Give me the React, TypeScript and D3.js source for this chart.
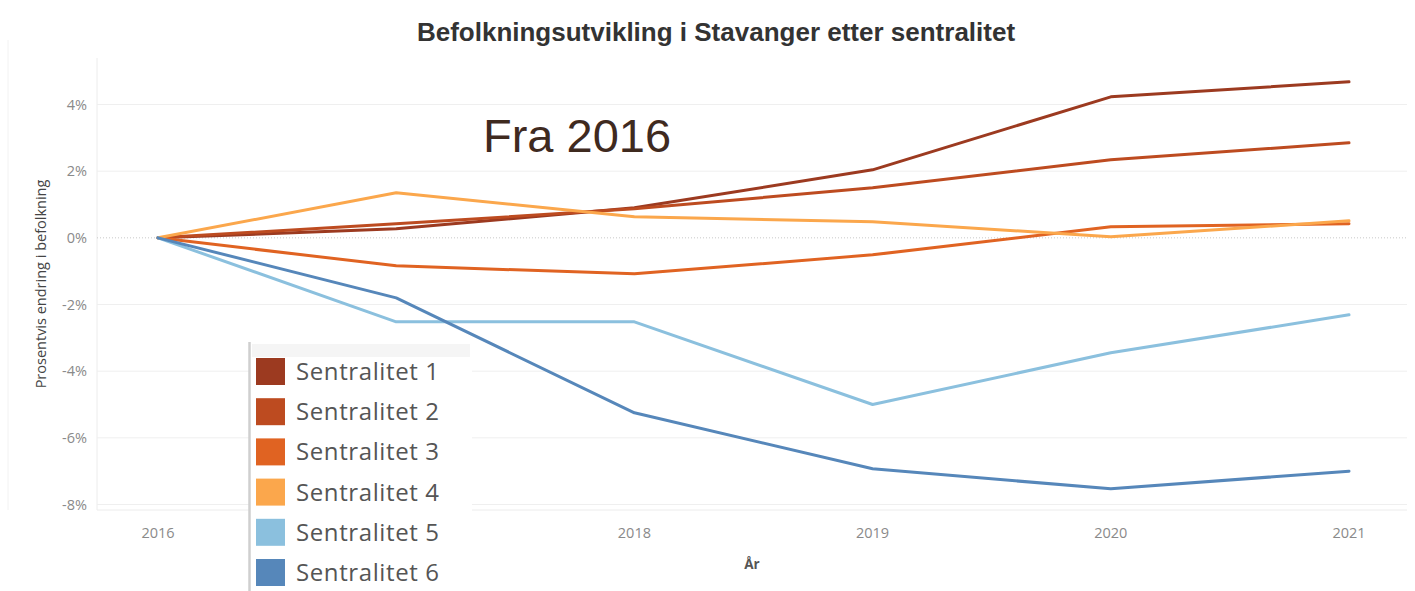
import React, { useEffect, useRef } from 'react';
import * as d3 from 'd3';

// years on the x axis
const years = [2016, 2017, 2018, 2019, 2020, 2021];
// the 2017 label sits behind the legend in the original, so it is not shown
const xTickLabels = [2016, 2018, 2019, 2020, 2021];

// percent change in population since 2016
const sentralitet1 = [0, 0.27, 0.9, 2.04, 4.23, 4.68];
const sentralitet2 = [0, 0.42, 0.87, 1.5, 2.34, 2.85];
const sentralitet3 = [0, -0.84, -1.08, -0.51, 0.33, 0.42];
const sentralitet4 = [0, 1.35, 0.63, 0.48, 0.03, 0.51];
const sentralitet5 = [0, -2.52, -2.52, -5.0, -3.45, -2.31];
const sentralitet6 = [0, -1.8, -5.25, -6.93, -7.53, -7.0];

const seriesNames = ['Sentralitet 1', 'Sentralitet 2', 'Sentralitet 3', 'Sentralitet 4', 'Sentralitet 5', 'Sentralitet 6'];
const seriesValues = [sentralitet1, sentralitet2, sentralitet3, sentralitet4, sentralitet5, sentralitet6];
const colors = ['#9c3a20', '#bd4b20', '#e06322', '#fba74c', '#8bc0de', '#5687ba'];

const yTicks = [4, 2, 0, -2, -4, -6, -8];

const W = 1415;
const H = 591;

const App = () => {
  const svgRef = useRef<SVGSVGElement | null>(null);

  useEffect(() => {
    const svg = d3.select(svgRef.current);
    svg.selectAll('*').remove();

    const x = d3.scaleLinear().domain([2016, 2021]).range([158, 1349]);
    const y = d3.scaleLinear().domain([-8, 4]).range([504.5, 104.5]);

    const plotLeft = 97;
    const plotRight = 1407;
    const plotTop = 58;
    const plotBottom = 510;

    // frame lines
    svg.append('line')
      .attr('x1', 8).attr('x2', 8).attr('y1', 40).attr('y2', plotBottom)
      .style('stroke', '#f2f2f2').style('stroke-width', 1);
    svg.append('line')
      .attr('x1', plotLeft).attr('x2', plotLeft).attr('y1', plotTop).attr('y2', plotBottom)
      .style('stroke', '#ececec').style('stroke-width', 1);
    svg.append('line')
      .attr('x1', plotLeft).attr('x2', plotRight).attr('y1', plotBottom).attr('y2', plotBottom)
      .style('stroke', '#ececec').style('stroke-width', 1);

    // gridlines
    svg.selectAll('.grid')
      .data(yTicks.filter(t => t !== 0))
      .enter()
      .append('line')
      .attr('class', 'grid')
      .attr('x1', plotLeft)
      .attr('x2', plotRight)
      .attr('y1', d => y(d))
      .attr('y2', d => y(d))
      .style('stroke', '#efefef')
      .style('stroke-width', 1);

    // zero line, dotted
    svg.append('line')
      .attr('x1', plotLeft).attr('x2', plotRight)
      .attr('y1', y(0)).attr('y2', y(0))
      .style('stroke', '#c8c8c8')
      .style('stroke-width', 1)
      .style('stroke-dasharray', '1,2');

    // y tick labels
    svg.selectAll('.ylab')
      .data(yTicks)
      .enter()
      .append('text')
      .attr('class', 'ylab')
      .attr('x', 87)
      .attr('y', d => y(d) + 5)
      .attr('text-anchor', 'end')
      .style('font-family', '"Open Sans", sans-serif')
      .style('font-size', '14.5px')
      .style('fill', '#8a8a8a')
      .text(d => `${d}%`);

    // y axis title
    svg.append('text')
      .attr('transform', 'translate(46,284) rotate(-90)')
      .attr('text-anchor', 'middle')
      .style('font-family', '"Open Sans", sans-serif')
      .style('font-size', '14.5px')
      .style('fill', '#444')
      .text('Prosentvis endring i befolkning');

    // x tick labels
    svg.selectAll('.xlab')
      .data(xTickLabels)
      .enter()
      .append('text')
      .attr('class', 'xlab')
      .attr('x', d => x(d))
      .attr('y', 538)
      .attr('text-anchor', 'middle')
      .style('font-family', '"Open Sans", sans-serif')
      .style('font-size', '14.5px')
      .style('fill', '#8a8a8a')
      .text(d => d);

    // x axis title
    svg.append('text')
      .attr('x', 752)
      .attr('y', 569)
      .attr('text-anchor', 'middle')
      .style('font-family', '"Open Sans", sans-serif')
      .style('font-size', '13.5px')
      .style('font-weight', 'bold')
      .style('fill', '#555')
      .text('År');

    // lines
    const line = d3.line<number>()
      .x((_, i) => x(years[i]))
      .y(d => y(d));

    seriesValues.forEach((vals, i) => {
      svg.append('path')
        .datum(vals)
        .attr('d', line)
        .style('fill', 'none')
        .style('stroke', colors[i])
        .style('stroke-width', 3)
        .style('stroke-linejoin', 'round')
        .style('stroke-linecap', 'round');
    });

    // title
    svg.append('text')
      .attr('x', 716)
      .attr('y', 41)
      .attr('text-anchor', 'middle')
      .style('font-family', '"Liberation Sans", Arial, sans-serif')
      .style('font-size', '26px')
      .style('font-weight', 'bold')
      .style('fill', '#333')
      .text('Befolkningsutvikling i Stavanger etter sentralitet');

    // annotation
    svg.append('text')
      .attr('x', 483)
      .attr('y', 152)
      .style('font-family', '"Liberation Sans", Arial, sans-serif')
      .style('font-size', '47px')
      .style('fill', '#3f2a1f')
      .text('Fra 2016');

    // legend box
    const legend = svg.append('g');
    legend.append('rect')
      .attr('x', 250).attr('y', 342).attr('width', 222).attr('height', 249)
      .style('fill', '#fff');
    legend.append('rect')
      .attr('x', 252).attr('y', 344).attr('width', 218).attr('height', 13)
      .style('fill', '#f5f5f5');
    legend.append('line')
      .attr('x1', 249.5).attr('x2', 249.5).attr('y1', 342).attr('y2', 591)
      .style('stroke', '#cfcfcf').style('stroke-width', 2.5);

    const items = legend.selectAll('.item')
      .data(seriesNames)
      .enter()
      .append('g')
      .attr('class', 'item')
      .attr('transform', (_, i) => `translate(256, ${358 + i * 40.2})`);

    items.append('rect')
      .attr('width', 29)
      .attr('height', 27)
      .style('fill', (_, i) => colors[i]);

    items.append('text')
      .attr('x', 40)
      .attr('y', 22)
      .style('font-family', '"Open Sans", sans-serif')
      .style('font-size', '24px')
      .style('letter-spacing', '0.6px')
      .style('fill', '#555')
      .text(d => d);
  }, []);

  return (
    <div style={{ position: 'absolute', left: 0, top: 0 }}>
      <svg ref={svgRef} width={W} height={H} style={{ display: 'block', background: '#fff' }}></svg>
    </div>
  );
};

export default App;
